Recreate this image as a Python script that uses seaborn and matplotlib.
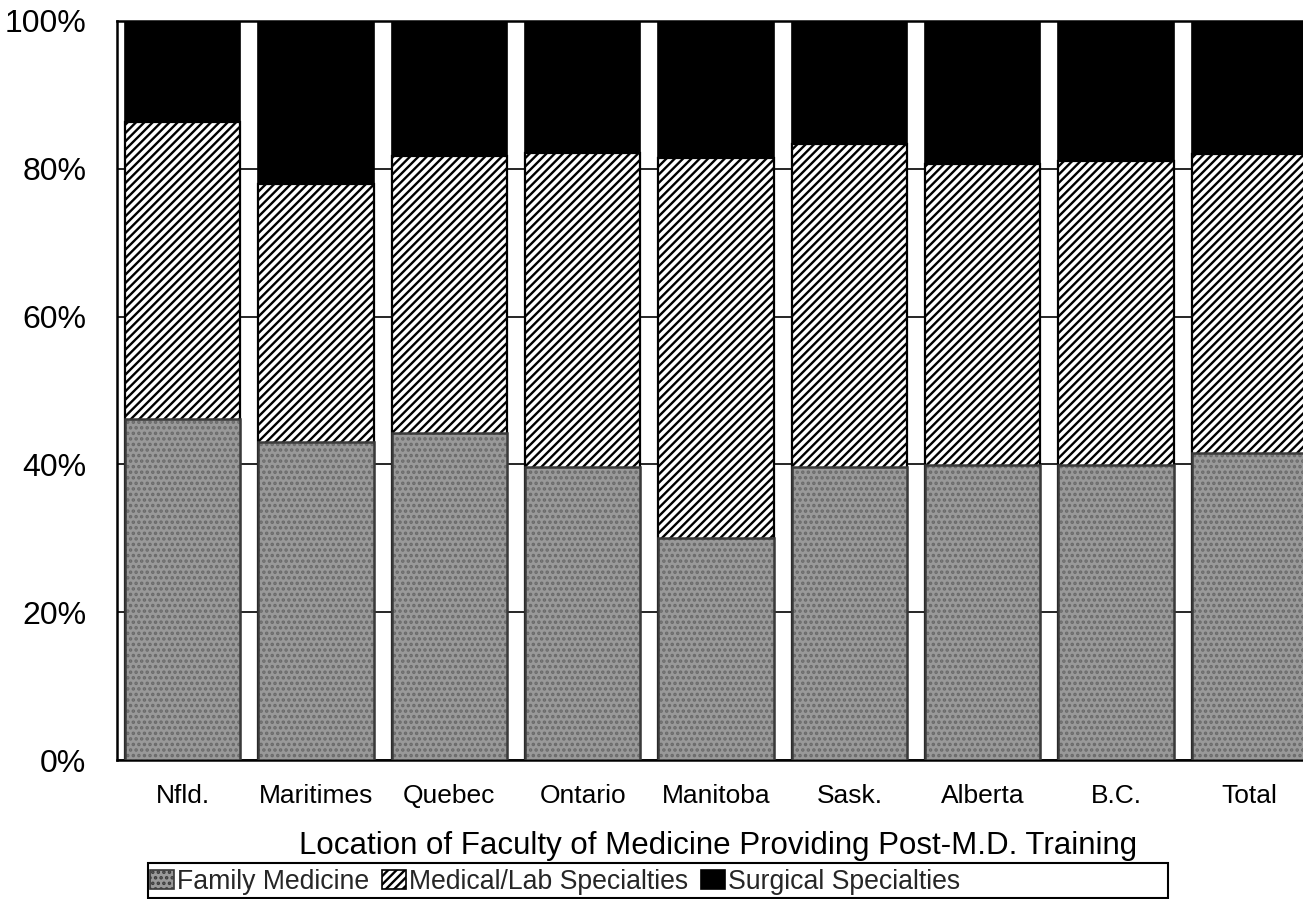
import numpy as np
import pandas as pd
import matplotlib
matplotlib.use("Agg")
import matplotlib.pyplot as plt
import seaborn as sns
from matplotlib.patches import Patch, Rectangle

categories = ["Nfld.", "Maritimes", "Quebec", "Ontario", "Manitoba", "Sask.", "Alberta", "B.C.", "Total"]
family_medicine = [46.1, 43.0, 44.2, 39.6, 30.1, 39.6, 39.9, 39.9, 41.5]
medical_lab = [40.3, 34.9, 37.5, 42.5, 51.3, 43.8, 40.8, 41.2, 40.5]
surgical = [13.6, 22.1, 18.3, 17.9, 18.6, 16.6, 19.3, 18.9, 18.0]
y_ticks = [0, 20, 40, 60, 80, 100]
y_tick_labels = ["0%", "20%", "40%", "60%", "80%", "100%"]
series_names = ["Family Medicine", "Medical/Lab Specialties", "Surgical Specialties"]
xlabel = "Location of Faculty of Medicine Providing Post-M.D. Training"

sns.set_theme(style="white")
plt.rcParams["font.family"] = ["Liberation Sans", "DejaVu Sans"]
plt.rcParams["hatch.linewidth"] = 1.7

df = pd.DataFrame({
    "cat": categories,
    "fm": family_medicine,
    "med": medical_lab,
    "surg": surgical,
})
df["top"] = df["fm"] + df["med"] + df["surg"]
df["mid"] = df["fm"] + df["med"]

W, H = 1303, 899
fig = plt.figure(figsize=(W / 100, H / 100), dpi=100)
ax = fig.add_axes([117 / W, 1 - 760 / H, (W - 117) / W + 0.01, (760 - 21) / H])

bw = 0.865
FM_FACE = "#999999"
FM_DOT = "#6a6a6a"
sns.barplot(data=df, x="cat", y="top", color="black", saturation=1, width=bw,
            edgecolor="black", linewidth=1.2, ax=ax, zorder=2)
sns.barplot(data=df, x="cat", y="mid", color="white", saturation=1, width=bw,
            edgecolor="black", linewidth=1.6, hatch="////", ax=ax, zorder=3)
sns.barplot(data=df, x="cat", y="fm", color=FM_FACE, saturation=1, width=bw,
            edgecolor=FM_DOT, linewidth=0, hatch="...", ax=ax, zorder=4)
sns.barplot(data=df, x="cat", y="fm", color="#3a3a3a", saturation=1, width=bw,
            fill=False, linewidth=1.8, ax=ax, zorder=5)

ax.set_xlim(-0.4925, 8.5)
ax.set_ylim(0, 100)
ax.set_yticks(y_ticks)
ax.set_yticklabels(y_tick_labels, fontsize=23)
ax.tick_params(axis="y", length=0, pad=22)
ax.tick_params(axis="x", length=0, pad=17, labelsize=19)
ax.set_xlabel("")
ax.set_ylabel("")
ax.yaxis.grid(True, color="black", linewidth=1.2)
ax.set_axisbelow(True)
for s in ["left", "bottom", "top"]:
    ax.spines[s].set_visible(True)
    ax.spines[s].set_color("black")
    ax.spines[s].set_linewidth(1.8)
ax.spines["right"].set_visible(False)
for lab in ax.get_xticklabels() + ax.get_yticklabels():
    lab.set_color("black")

fig.text(718 / W, 1 - 846 / H, xlabel, ha="center", va="center", fontsize=22.5, color="black")

handles = [
    Patch(facecolor=FM_FACE, edgecolor="#3a3a3a", hatch="...", linewidth=1.2),
    Patch(facecolor="white", edgecolor="black", hatch="////", linewidth=1.2),
    Patch(facecolor="black", edgecolor="black", linewidth=1.2),
]
fig.legend(handles, series_names, loc="center left", bbox_to_anchor=(150 / W, 1 - 882 / H),
           ncol=3, frameon=False, fontsize=19.2, handlelength=0.9, handleheight=0.75,
           handletextpad=0.1, columnspacing=0.5, borderpad=0, borderaxespad=0)
fig.patches.append(Rectangle((148 / W, 1 / H), (1168 - 148) / W, (898 - 863) / H,
                             transform=fig.transFigure, fill=False, edgecolor="black",
                             linewidth=1.5))

fig.savefig("out.png", dpi=100, facecolor="white")
